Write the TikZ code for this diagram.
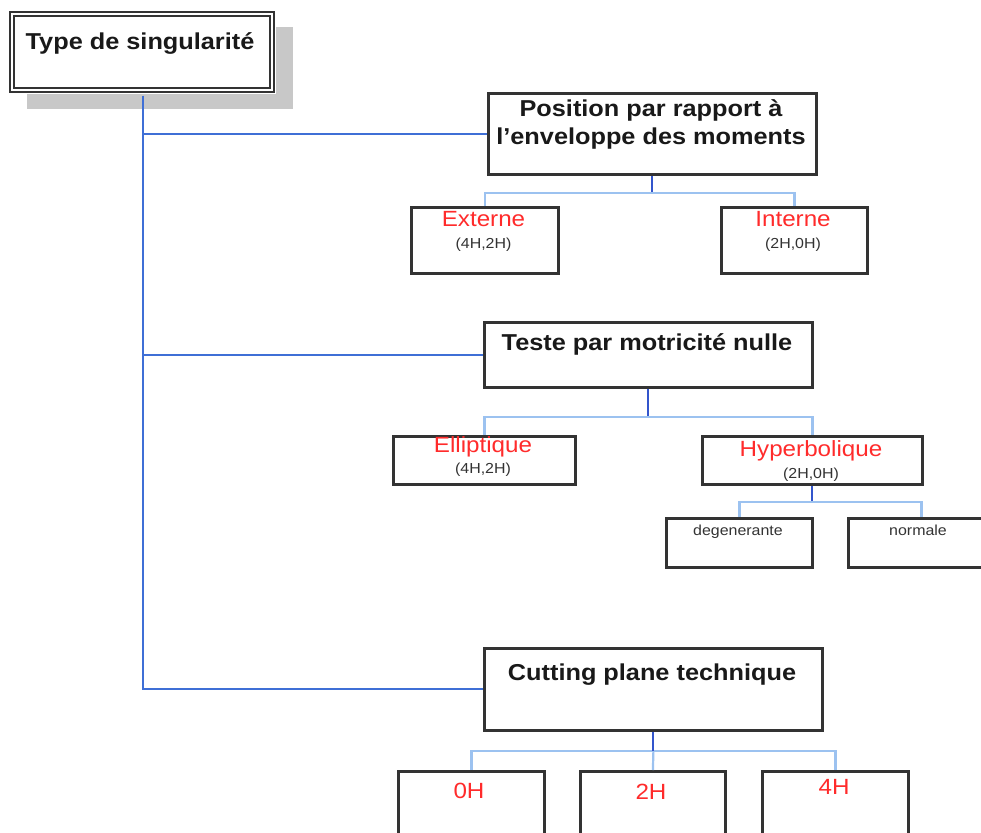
\documentclass[tikz,border=0pt]{standalone}
\usepackage{fontspec}
\setmainfont[FakeStretch=1.1]{Liberation Sans}
\definecolor{trunkblue}{HTML}{3F6FD6}
\definecolor{stubblue}{HTML}{3355CC}
\definecolor{lightblue}{HTML}{9CC2F0}
\definecolor{boxgray}{HTML}{333333}
\definecolor{shadowgray}{HTML}{C8C8C8}
\definecolor{labelred}{HTML}{FF2B2B}
\definecolor{smallgray}{HTML}{333333}
\tikzset{
  boxnode/.style={draw=boxgray, line width=2.8pt, fill=white, inner sep=0pt, anchor=north west},
  titletext/.style={inner sep=0pt, anchor=base, font=\fontsize{23}{28}\selectfont\bfseries, text=black!90, align=center},
  redtext/.style={inner sep=0pt, anchor=base, font=\fontsize{22}{26}\selectfont, text=labelred},
  smalltext/.style={inner sep=0pt, anchor=base, font=\fontsize{14.5}{17}\selectfont, text=smallgray},
  trunk/.style={draw=trunkblue, line width=2pt},
  stub/.style={draw=stubblue, line width=2pt},
  twig/.style={draw=lightblue, line width=2.2pt},
}
\begin{document}
\begin{tikzpicture}[x=1pt, y=-1pt]
\clip (0,0) rectangle (981,832);
\fill[white] (0,0) rectangle (981,832);

% root
\fill[shadowgray] (27,27) rectangle (293,109);
\node[boxnode, draw=none, minimum width=266pt, minimum height=82pt] (root) at (9,11) {};
\draw[draw=boxgray, line width=2pt, double=white, double distance=1.6pt] (11.8,13.8) rectangle (272.2,90.2);
\node[titletext] (rootT) at (140,50) {Type de singularité};

% level-1 boxes
\node[boxnode, minimum width=328pt, minimum height=81pt] (pos) at (487,92) {};
\node[titletext] (posT) at (651,144) {Position par rapport à\\l’enveloppe des moments};

\node[boxnode, minimum width=328pt, minimum height=65pt] (tes) at (483,321) {};
\node[titletext] (tesT) at (647,350) {Teste par motricité nulle};

\node[boxnode, minimum width=338pt, minimum height=82pt] (cut) at (483,647) {};
\node[titletext] (cutT) at (652,680) {Cutting plane technique};

% children of Position
\node[boxnode, minimum width=147pt, minimum height=66pt] (ext) at (410,206) {};
\node[redtext] (extT) at (483.5,226) {Externe};
\node[smalltext] (extS) at (483.5,248) {(4H,2H)};

\node[boxnode, minimum width=146pt, minimum height=66pt] (int) at (720,206) {};
\node[redtext] (intT) at (793,226) {Interne};
\node[smalltext] (intS) at (793,248) {(2H,0H)};

% children of Teste
\node[boxnode, minimum width=182pt, minimum height=48pt] (ell) at (392,435) {};
\node[redtext] (ellT) at (483,452) {Elliptique};
\node[smalltext] (ellS) at (483,473) {(4H,2H)};

\node[boxnode, minimum width=220pt, minimum height=48pt] (hyp) at (701,435) {};
\node[redtext] (hypT) at (811,456) {Hyperbolique};
\node[smalltext] (hypS) at (811,478) {(2H,0H)};

\node[boxnode, minimum width=146pt, minimum height=49pt] (deg) at (665,517) {};
\node[smalltext] (degT) at (738,535) {degenerante};

\node[boxnode, minimum width=146pt, minimum height=49pt] (nor) at (847,517) {};
\node[smalltext] (norT) at (918,535) {normale};

% children of Cutting
\node[boxnode, minimum width=146pt, minimum height=90pt] (h0) at (397,770) {};
\node[redtext] (h0T) at (469,798) {0H};
\node[boxnode, minimum width=145pt, minimum height=90pt] (h2) at (579,770) {};
\node[redtext] (h2T) at (651,799) {2H};
\node[boxnode, minimum width=146pt, minimum height=90pt] (h4) at (761,770) {};
\node[redtext] (h4T) at (834,794) {4H};

% trunk connectors
\draw[trunk] (root.south) |- (pos.west);
\draw[trunk] (root.south) |- (tes.west);
\draw[trunk] (root.south) |- (cut.west);

% Position children
\draw[stub] (pos.south) -- ++(0,17) coordinate (posj);
\draw[twig] (ext.north) |- (posj) -| (int.north);

% Teste children
\draw[stub] (tes.south) -- ++(0,28) coordinate (tesj);
\draw[twig] (ell.north) |- (tesj) -| (hyp.north);

% Hyperbolique children
\draw[stub] (hyp.south) -- ++(0,16) coordinate (hypj);
\draw[twig] (deg.north) |- (hypj) -| (nor.north);

% Cutting children
\draw[stub] (cut.south) -- ++(0,19) coordinate (cutj);
\draw[twig] (h0.north) |- (cutj) -| (h4.north);
\draw[twig] (cutj) -- (h2.north);
\draw[stub] (cut.south) -- (cutj);
\end{tikzpicture}
\end{document}
